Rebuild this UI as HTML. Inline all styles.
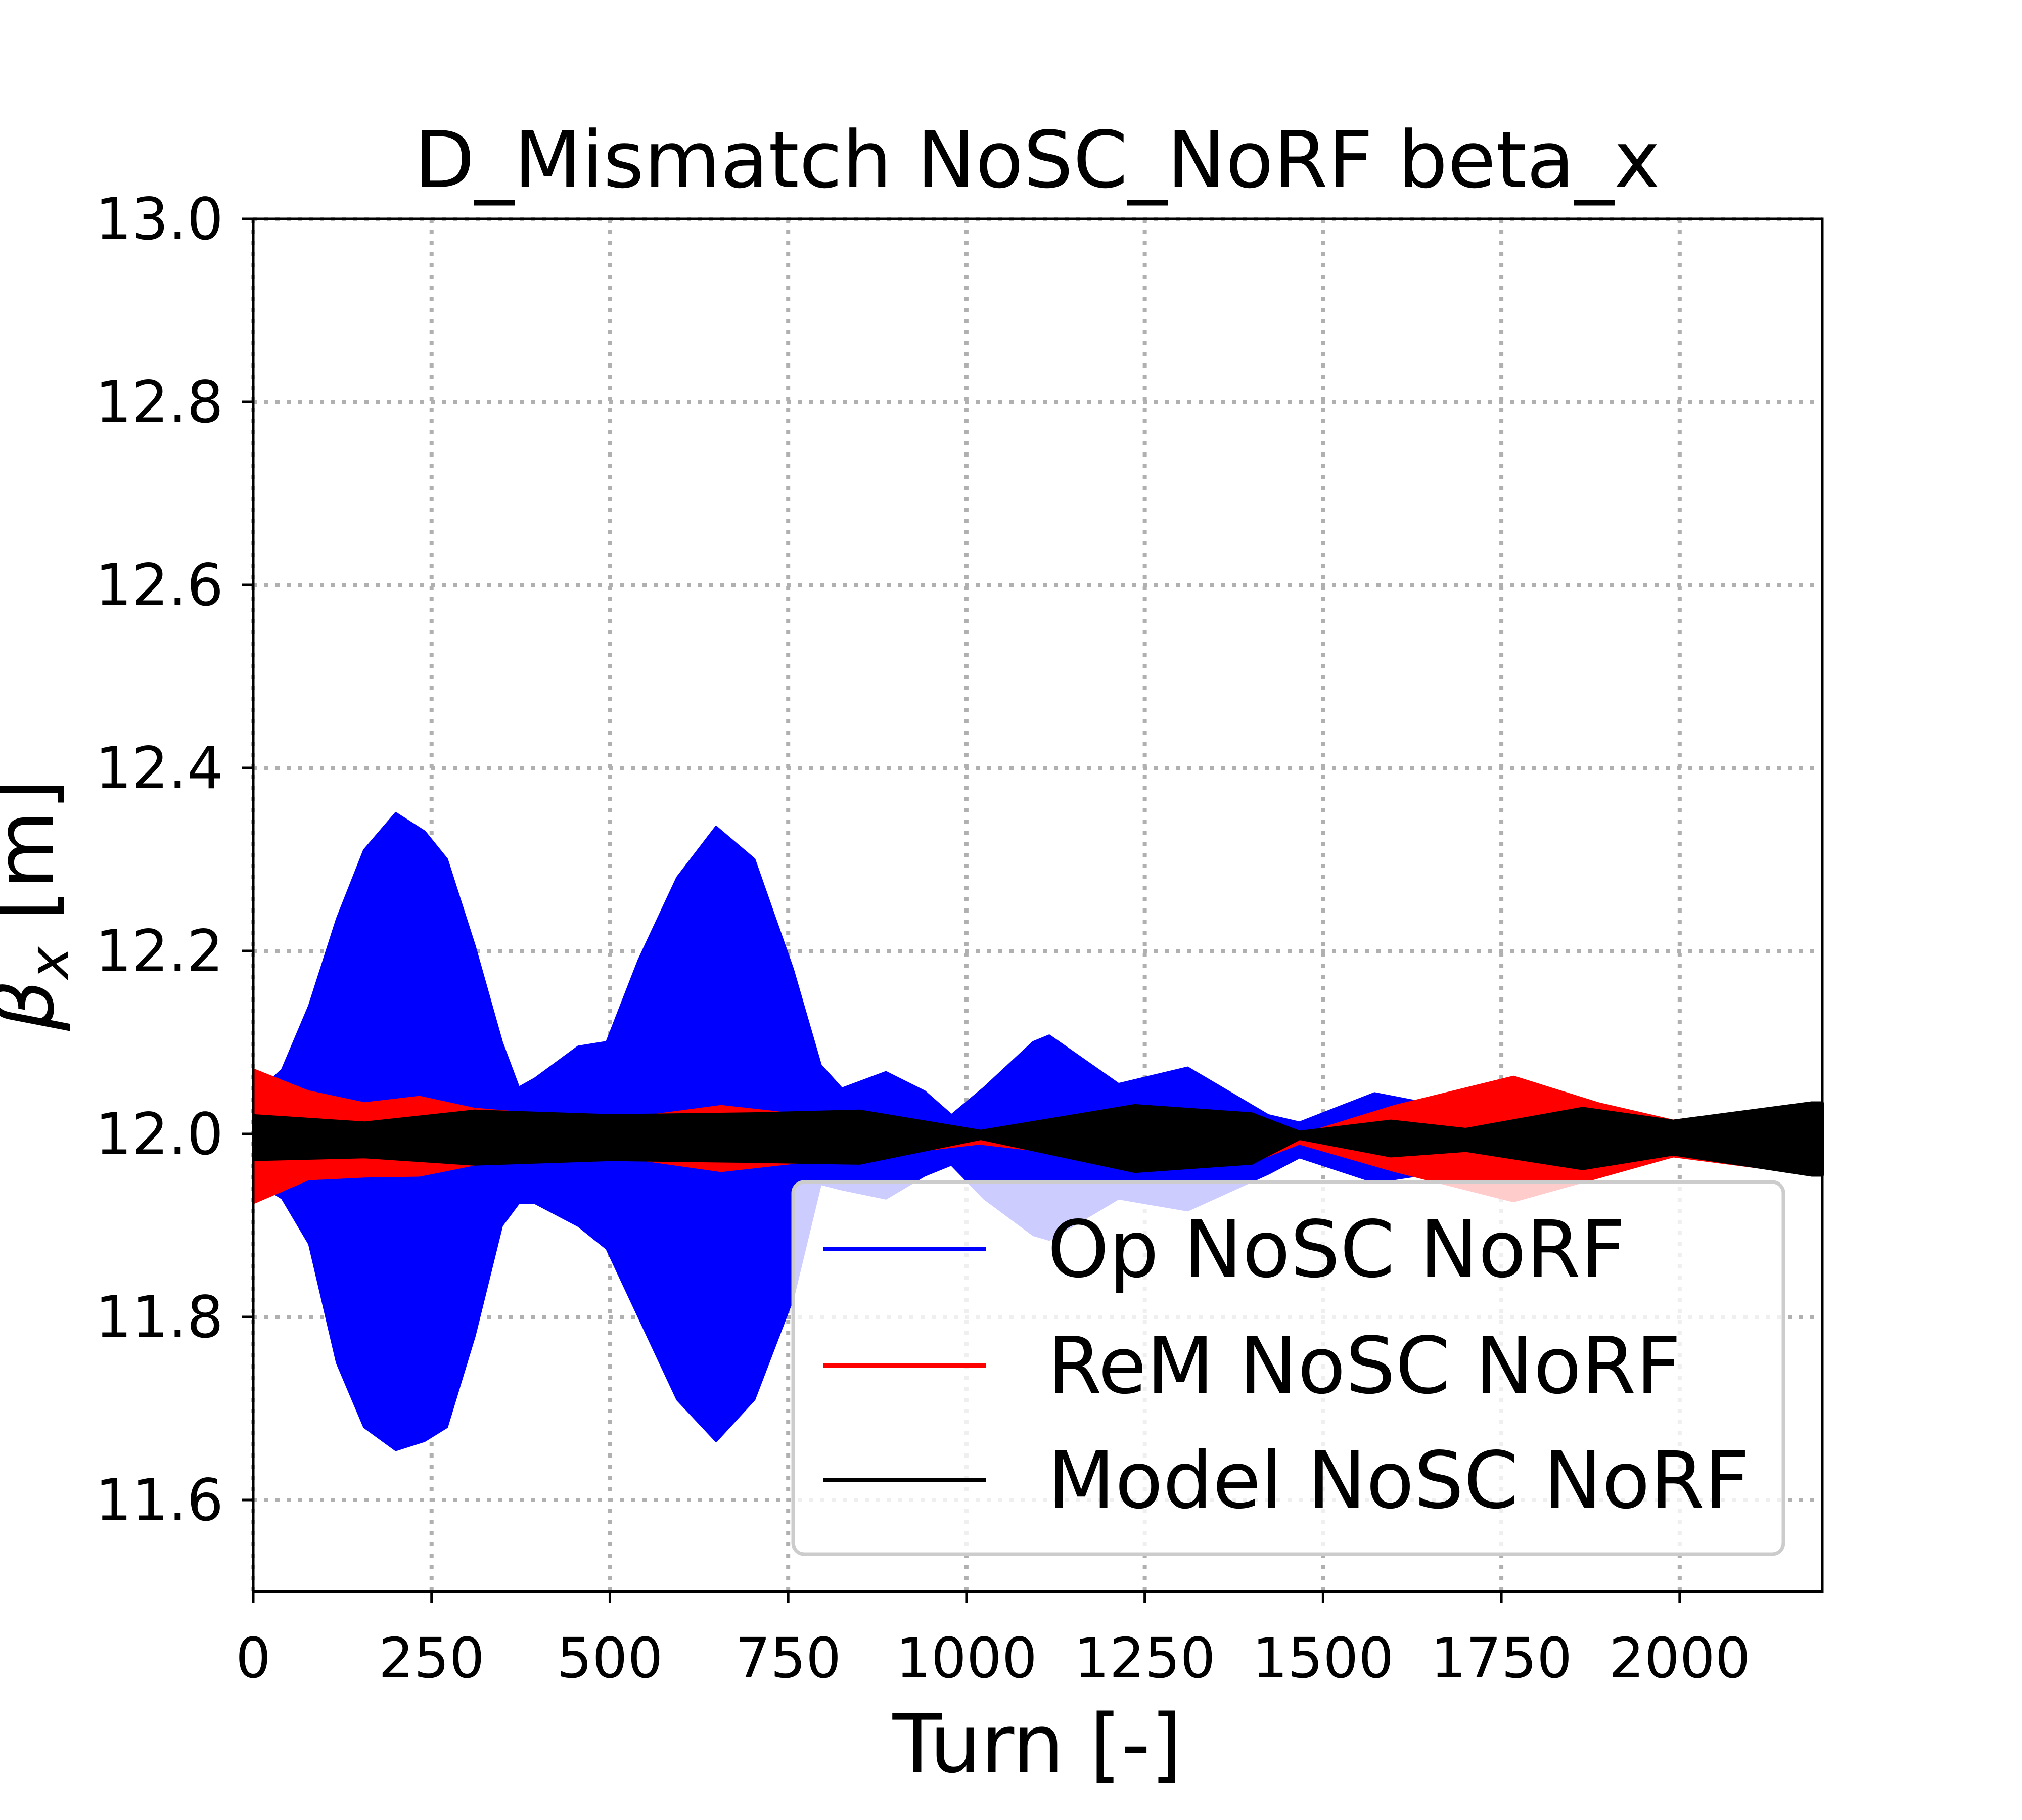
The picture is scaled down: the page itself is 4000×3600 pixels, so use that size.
<!DOCTYPE html>
<html><head><meta charset="utf-8"><style>
html,body{margin:0;padding:0;background:#fff;}
svg{display:block;font-family:"DejaVu Sans","Liberation Sans",sans-serif;}
</style></head><body>
<svg id="chart" width="4000" height="3600" viewBox="0 0 4000 3600" xmlns="http://www.w3.org/2000/svg">
<rect width="4000" height="3600" fill="#fff"/>
<text x="2052" y="370" font-size="155" text-anchor="middle">D_Mismatch NoSC_NoRF beta_x</text>
<g id="grid"></g>
<g id="series"></g>
<rect x="501" y="433" width="3104" height="2715" fill="none" stroke="#000" stroke-width="5"/>
<g id="ticks"></g>
<text x="2052" y="3505" font-size="160" text-anchor="middle">Turn [-]</text>
<text transform="translate(105,1790) rotate(-90)" font-size="160" text-anchor="middle"><tspan font-style="italic">β</tspan><tspan font-style="italic" font-size="110" dy="30">x</tspan><tspan dy="-30"> [m]</tspan></text>
<g>
<rect x="1569" y="2338" width="1959" height="736" rx="22" fill="#fff" fill-opacity="0.8" stroke="#ccc" stroke-width="7"/>
<line x1="1628" y1="2471" x2="1950" y2="2471" stroke="#00f" stroke-width="8"/>
<text x="2072" y="2525" font-size="155">Op NoSC NoRF</text>
<line x1="1628" y1="2701" x2="1950" y2="2701" stroke="#f00" stroke-width="8"/>
<text x="2072" y="2755" font-size="155">ReM NoSC NoRF</text>
<line x1="1628" y1="2928" x2="1950" y2="2928" stroke="#000" stroke-width="8"/>
<text x="2072" y="2982" font-size="155">Model NoSC NoRF</text>
</g>
</svg>
<script>
const xTicks=[0,250,500,750,1000,1250,1500,1750,2000];
const yTicks=[11.6,11.8,12.0,12.2,12.4,12.6,12.8,13.0];
const opTurns=[0,41,79,118,156,200,240,271,310,348,372,395,456,496,541,595,649,702,756,795,825,887,941,979,1025,1094,1116,1213,1310,1423,1467,1572,1632,1700,1900,2000,2200];
const opUpper=[12.04,12.07,12.14,12.235,12.31,12.35,12.33,12.30,12.205,12.10,12.05,12.06,12.095,12.10,12.19,12.28,12.335,12.30,12.18,12.075,12.049,12.067,12.046,12.02,12.05,12.10,12.107,12.054,12.072,12.02,12.012,12.044,12.035,12.015,12.01,12.012,12.02];
const opLower=[11.95,11.93,11.88,11.75,11.68,11.655,11.665,11.68,11.78,11.90,11.925,11.925,11.90,11.875,11.80,11.71,11.665,11.71,11.82,11.946,11.94,11.93,11.955,11.967,11.93,11.89,11.885,11.93,11.917,11.957,11.975,11.948,11.955,11.98,11.99,11.985,11.98];
const remTurns=[0,77,156,233,310,387,502,656,771,887,1018,1150,1400,1467,1600,1767,1886,1991,2100,2200];
const remUpper=[12.07,12.046,12.033,12.04,12.027,12.022,12.014,12.03,12.02,12.009,12.0,12.012,12.022,11.998,12.03,12.062,12.033,12.014,12.025,12.033];
const remLower=[11.925,11.951,11.954,11.955,11.967,11.972,11.977,11.96,11.97,11.978,11.99,11.978,11.97,11.99,11.96,11.927,11.953,11.976,11.965,11.955];
const modelTurns=[0,156,310,502,700,850,1020,1236,1400,1467,1595,1700,1864,1991,2185,2200];
const modelUpper=[12.02,12.012,12.025,12.02,12.022,12.025,12.003,12.031,12.022,12.002,12.014,12.005,12.028,12.014,12.034,12.034];
const modelLower=[11.972,11.975,11.967,11.972,11.97,11.968,11.995,11.959,11.968,11.995,11.976,11.982,11.962,11.978,11.955,11.955];

const L=501,R=3605,T=433,B=3148,XMAX=2200,YMIN=11.5,YMAX=13.0;
const X=t=>L+(t/XMAX)*(R-L);
const Y=v=>B-(v-YMIN)/(YMAX-YMIN)*(B-T);
const NS='http://www.w3.org/2000/svg';
function mk(tag,attrs,parent){const e=document.createElementNS(NS,tag);for(const k in attrs)e.setAttribute(k,attrs[k]);parent.appendChild(e);return e;}
const grid=document.getElementById('grid'),ticks=document.getElementById('ticks'),series=document.getElementById('series');
xTicks.forEach(t=>{
  const g=mk('line',{x1:X(t),y1:T,x2:X(t),y2:B,stroke:'#b0b0b0','stroke-width':8,'stroke-dasharray':'8,14'},grid);
  
  
  const tk=mk('line',{x1:X(t),y1:B,x2:X(t),y2:B+22,stroke:'#000','stroke-width':5},ticks);
  
  
  const lb=mk('text',{x:X(t),y:3318,'font-size':110,'text-anchor':'middle'},ticks);
  
  
  lb.textContent=String(t);
});
yTicks.forEach(v=>{
  const g=mk('line',{x1:L,y1:Y(v),x2:R,y2:Y(v),stroke:'#b0b0b0','stroke-width':8,'stroke-dasharray':'8,14'},grid);
  
  
  const tk=mk('line',{x1:L-22,y1:Y(v),x2:L,y2:Y(v),stroke:'#000','stroke-width':5},ticks);
  
  
  const lb=mk('text',{x:442,y:Y(v)+40,'font-size':114,'text-anchor':'end'},ticks);
  
  
  lb.textContent=v.toFixed(1);
});
function band(turns,up,lo,color,name){
  let d='M'+turns.map((t,i)=>X(t)+','+Y(up[i])).join(' L');
  d+=' L'+turns.slice().reverse().map((t,j)=>{const i=turns.length-1-j;return X(t)+','+Y(lo[i]);}).join(' L')+' Z';
  const p=mk('path',{d:d,fill:color,stroke:color,'stroke-width':6,'stroke-linejoin':'round'},series);
  
  
}
band(opTurns,opUpper,opLower,'#0000ff','op-nosc-norf-series');
band(remTurns,remUpper,remLower,'#ff0000','rem-nosc-norf-series');
band(modelTurns,modelUpper,modelLower,'#000000','model-nosc-norf-series');
</script>
</body></html>
